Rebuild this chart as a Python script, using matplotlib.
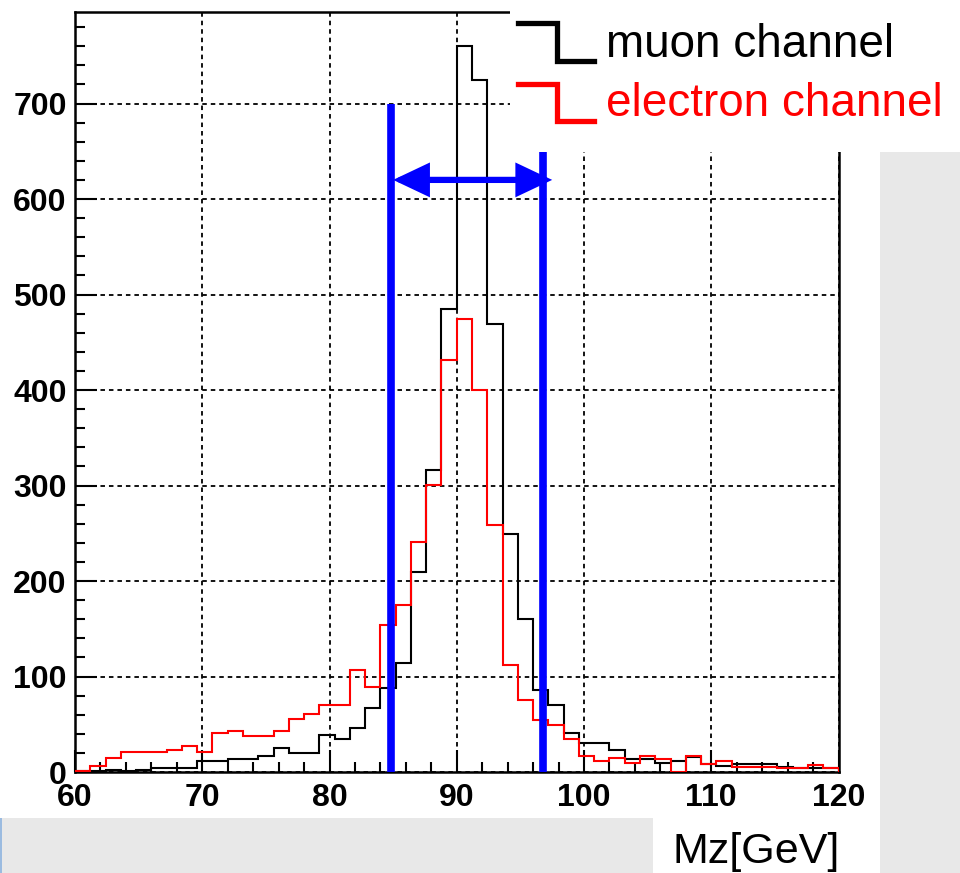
import matplotlib
matplotlib.use('Agg')
import matplotlib.pyplot as plt
import numpy as np
from matplotlib.patches import Rectangle, FancyArrowPatch, ArrowStyle
from matplotlib.lines import Line2D
from matplotlib.ticker import MultipleLocator

plt.rcParams['font.family'] = ['Liberation Sans', 'DejaVu Sans']

# Z mass histograms, 50 bins of 1.2 GeV from 60 to 120
bin_edges = np.linspace(60, 120, 51)
muon_counts = [1, 1, 2, 1, 2, 4, 4, 4, 11, 11,
               14, 14, 17, 25, 20, 20, 39, 35, 46, 67,
               88, 114, 209, 316, 485, 760, 725, 469, 249, 160,
               86, 70, 41, 30, 30, 23, 14, 14, 9, 12,
               16, 8, 6, 8, 8, 8, 5, 4, 4, 4]
electron_counts = [1, 6, 15, 21, 21, 21, 23, 27, 21, 41,
                   43, 38, 38, 43, 56, 61, 70, 70, 107, 89,
                   154, 175, 241, 301, 431, 474, 400, 259, 112, 75,
                   54, 49, 35, 17, 12, 15, 9, 17, 14, 0,
                   17, 8, 11, 5, 5, 5, 4, 4, 7, 4]

# mass window markers
window_low, window_high = 84.8, 96.8
window_low_top, window_high_top = 700, 650
arrow_left, arrow_right, arrow_y = 85.0, 97.5, 620

W, H = 960, 873
fig = plt.figure(figsize=(W / 100, H / 100), dpi=100)

# slide background pieces
gray = '#e8e8e8'
fig.patches.append(Rectangle((880 / W, 0), 80 / W, 1 - 152 / H, transform=fig.transFigure,
                             facecolor=gray, edgecolor='none', zorder=-2))
fig.patches.append(Rectangle((0, 0), 653 / W, 55 / H, transform=fig.transFigure,
                             facecolor=gray, edgecolor='none', zorder=-2))
fig.patches.append(Rectangle((0, 0), 2 / W, 55 / H, transform=fig.transFigure,
                             facecolor='#9bbbe0', edgecolor='none', zorder=-1))

ax = fig.add_axes([75 / W, 1 - 772 / H, (838.5 - 75) / W, (772 - 12.3) / H])
ax.stairs(muon_counts, bin_edges, color='black', lw=1.5, zorder=3)
ax.stairs(electron_counts, bin_edges, color='red', lw=1.5, zorder=3)

ax.plot([window_low, window_low], [0, window_low_top], color='#0000ff', lw=5.5,
        solid_capstyle='butt', zorder=4)
ax.plot([window_high, window_high], [0, window_high_top], color='#0000ff', lw=5.5,
        solid_capstyle='butt', zorder=4)
arrow = FancyArrowPatch((arrow_left, arrow_y), (arrow_right, arrow_y),
                        arrowstyle=ArrowStyle('<|-|>', head_length=19, head_width=9),
                        color='#0000ff', lw=4.5, shrinkA=0, shrinkB=0,
                        joinstyle='miter', zorder=5)
ax.add_patch(arrow)

ax.set_xlim(60, 120)
ax.set_ylim(0, 795.5)
ax.xaxis.set_major_locator(MultipleLocator(10))
ax.xaxis.set_minor_locator(MultipleLocator(2))
ax.yaxis.set_major_locator(MultipleLocator(100))
ax.yaxis.set_minor_locator(MultipleLocator(20))
ax.tick_params(which='both', direction='in', width=1.5, labelsize=23)
ax.tick_params(which='major', length=16)
ax.tick_params(axis='x', which='major', pad=8)
ax.tick_params(axis='y', which='major', pad=6)
ax.tick_params(which='minor', length=7)
for lab in ax.get_xticklabels() + ax.get_yticklabels():
    lab.set_fontweight('bold')
for sp in ax.spines.values():
    sp.set_linewidth(1.8)
ax.set_axisbelow(True)
ax.grid(True, which='major', color='black', lw=1.3, linestyle=(0, (2.5, 2.2)))

# legend box covering the top right of the frame
fig.patches.append(Rectangle((510 / W, 1 - 152 / H), 370 / W, 152 / H, transform=fig.transFigure,
                             facecolor='white', edgecolor='none', zorder=5))
for col, ytop, ybot in [('black', 22.5, 61), ('red', 84, 121)]:
    xs = np.array([518, 557, 557, 594]) / W
    ys = 1 - np.array([ytop, ytop, ybot, ybot]) / H
    fig.add_artist(Line2D(xs, ys, color=col, lw=3.8, solid_joinstyle='miter', zorder=6))
fig.text(606 / W, 1 - 57 / H, 'muon channel', color='black', fontsize=33, va='baseline', zorder=6)
fig.text(606 / W, 1 - 116 / H, 'electron channel', color='red', fontsize=33, va='baseline', zorder=6)

fig.text(673 / W, 1 - 863 / H, 'Mz[GeV]', color='black', fontsize=31, va='baseline')

fig.savefig('out.png', dpi=100)
